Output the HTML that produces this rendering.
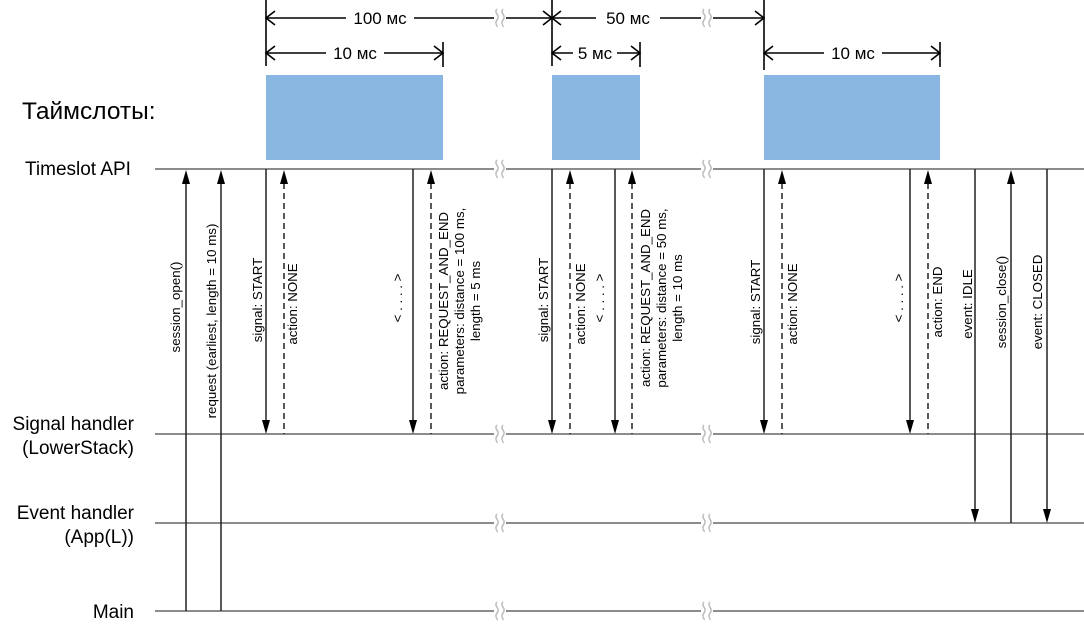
<!DOCTYPE html>
<html><head><meta charset="utf-8"><style>
html,body{margin:0;padding:0;background:#fff;}
svg{display:block;font-family:"Liberation Sans",Arial,sans-serif;}
</style></head><body>
<svg width="1084" height="630" viewBox="0 0 1084 630" xmlns="http://www.w3.org/2000/svg">
<defs>
<g id="brk"><rect x="-6" y="-10" width="12" height="20" fill="#fff"/><path d="M-3,-9 C-7,-5 1,-3 -3,2 C-6,6 -2,8 -3,9 M3,-9 C-1,-5 7,-3 3,2 C0,6 4,8 3,9" stroke="#bbb" stroke-width="1.5" fill="none"/></g>
</defs>
<rect x="266" y="75" width="177" height="85" fill="#8ab6e2"/>
<rect x="552" y="75" width="88" height="85" fill="#8ab6e2"/>
<rect x="764" y="75" width="176" height="85" fill="#8ab6e2"/>

<g stroke="#000" stroke-width="1.6" fill="none">
<line x1="266" y1="0" x2="266" y2="66"/><line x1="552" y1="0" x2="552" y2="66"/><line x1="764" y1="0" x2="764" y2="70"/>
<line x1="443" y1="42" x2="443" y2="67"/><line x1="640" y1="42" x2="640" y2="67"/><line x1="940" y1="42" x2="940" y2="67"/>
<line x1="266" y1="18" x2="764" y2="18"/>
<line x1="266" y1="53" x2="443" y2="53"/><line x1="552" y1="53" x2="640" y2="53"/><line x1="764" y1="53" x2="940" y2="53"/>
<polyline points="275,11 266,18 275,25"/><polyline points="543,11 552,18 543,25"/><polyline points="561,11 552,18 561,25"/><polyline points="755,11 764,18 755,25"/>
<polyline points="275,46 266,53 275,60"/><polyline points="434,46 443,53 434,60"/>
<polyline points="561,46 552,53 561,60"/><polyline points="631,46 640,53 631,60"/>
<polyline points="773,46 764,53 773,60"/><polyline points="931,46 940,53 931,60"/>
</g>
<g font-size="17" text-anchor="middle" fill="#000">
<rect x="346" y="8" width="68" height="20" fill="#fff"/><text x="380" y="24">100 мс</text>
<rect x="596" y="8" width="64" height="20" fill="#fff"/><text x="628" y="24">50 мс</text>
<rect x="326" y="43" width="58" height="20" fill="#fff"/><text x="355" y="59">10 мс</text>
<rect x="573" y="43" width="44" height="20" fill="#fff"/><text x="595" y="59">5 мс</text>
<rect x="824" y="43" width="58" height="20" fill="#fff"/><text x="853" y="59">10 мс</text>
</g>

<g stroke="#8c8c8c" stroke-width="2">
<line x1="155" y1="169" x2="1084" y2="169"/>
<line x1="155" y1="434" x2="1084" y2="434"/>
<line x1="155" y1="523" x2="1084" y2="523"/>
<line x1="155" y1="611" x2="1084" y2="611"/>
</g>

<g fill="#000">
<text x="22" y="119" font-size="24.5">Таймслоты:</text>
<text x="25" y="175" font-size="19">Timeslot API</text>
<g font-size="19" text-anchor="end">
<text x="134" y="430">Signal handler</text>
<text x="134" y="454">(LowerStack)</text>
<text x="134" y="519">Event handler</text>
<text x="134" y="543">(App(L))</text>
<text x="134" y="618">Main</text>
</g>
</g>

<g stroke="#222" stroke-width="1.5" fill="none">
<line x1="186" y1="182" x2="186" y2="611"/>
<line x1="221" y1="182" x2="221" y2="611"/>
<line x1="1011" y1="182" x2="1011" y2="523"/>
<line x1="266" y1="169" x2="266" y2="421"/>
<line x1="413" y1="169" x2="413" y2="421"/>
<line x1="552" y1="169" x2="552" y2="421"/>
<line x1="615" y1="169" x2="615" y2="421"/>
<line x1="764" y1="169" x2="764" y2="421"/>
<line x1="910" y1="169" x2="910" y2="421"/>
<line x1="975" y1="169" x2="975" y2="510"/>
<line x1="1047" y1="169" x2="1047" y2="510"/>
<g stroke-dasharray="6,4">
<line x1="284" y1="183" x2="284" y2="434"/>
<line x1="431" y1="183" x2="431" y2="434"/>
<line x1="570" y1="183" x2="570" y2="434"/>
<line x1="632" y1="183" x2="632" y2="434"/>
<line x1="782" y1="183" x2="782" y2="434"/>
<line x1="928" y1="183" x2="928" y2="434"/>
</g>
</g>
<g fill="#000">
<polygon points="182,184 190,184 186,170"/><polygon points="217,184 225,184 221,170"/><polygon points="1007,184 1015,184 1011,170"/>
<polygon points="280,184 288,184 284,170"/><polygon points="427,184 435,184 431,170"/><polygon points="566,184 574,184 570,170"/>
<polygon points="628,184 636,184 632,170"/><polygon points="778,184 786,184 782,170"/><polygon points="924,184 932,184 928,170"/>
<polygon points="262,420 270,420 266,434"/><polygon points="409,420 417,420 413,434"/><polygon points="548,420 556,420 552,434"/>
<polygon points="611,420 619,420 615,434"/><polygon points="760,420 768,420 764,434"/><polygon points="906,420 914,420 910,434"/>
<polygon points="971,509 979,509 975,523"/><polygon points="1043,509 1051,509 1047,523"/>
</g>

<use href="#brk" x="500" y="18"/><use href="#brk" x="707" y="18"/>
<use href="#brk" x="500" y="169"/><use href="#brk" x="707" y="169"/>
<use href="#brk" x="500" y="434"/><use href="#brk" x="707" y="434"/>
<use href="#brk" x="500" y="523"/><use href="#brk" x="707" y="523"/>
<use href="#brk" x="500" y="611"/><use href="#brk" x="707" y="611"/>

<g font-size="13.3" text-anchor="middle" fill="#000">
<text transform="translate(180,307) rotate(-90)">session_open()</text>
<text transform="translate(216,321) rotate(-90)">request (earliest, length = 10 ms)</text>
<text transform="translate(262,300) rotate(-90)">signal: START</text>
<text transform="translate(297,304) rotate(-90)">action: NONE</text>
<text transform="translate(402,298) rotate(-90)">&lt; . . . . &gt;</text>
<text transform="translate(448,301) rotate(-90)">action: REQUEST_AND_END</text>
<text transform="translate(464,301) rotate(-90)">parameters: distance = 100 ms,</text>
<text transform="translate(480,301) rotate(-90)">length = 5 ms</text>
<text transform="translate(548,300) rotate(-90)">signal: START</text>
<text transform="translate(585,304) rotate(-90)">action: NONE</text>
<text transform="translate(604,298) rotate(-90)">&lt; . . . . &gt;</text>
<text transform="translate(650,298) rotate(-90)">action: REQUEST_AND_END</text>
<text transform="translate(666,298) rotate(-90)">parameters: distance = 50 ms,</text>
<text transform="translate(682,298) rotate(-90)">length = 10 ms</text>
<text transform="translate(760,302) rotate(-90)">signal: START</text>
<text transform="translate(797,304) rotate(-90)">action: NONE</text>
<text transform="translate(903,298) rotate(-90)">&lt; . . . . &gt;</text>
<text transform="translate(942,302) rotate(-90)">action: END</text>
<text transform="translate(972,304) rotate(-90)">event: IDLE</text>
<text transform="translate(1006,302) rotate(-90)">session_close()</text>
<text transform="translate(1042,302) rotate(-90)">event: CLOSED</text>
</g>
</svg>
</body></html>
